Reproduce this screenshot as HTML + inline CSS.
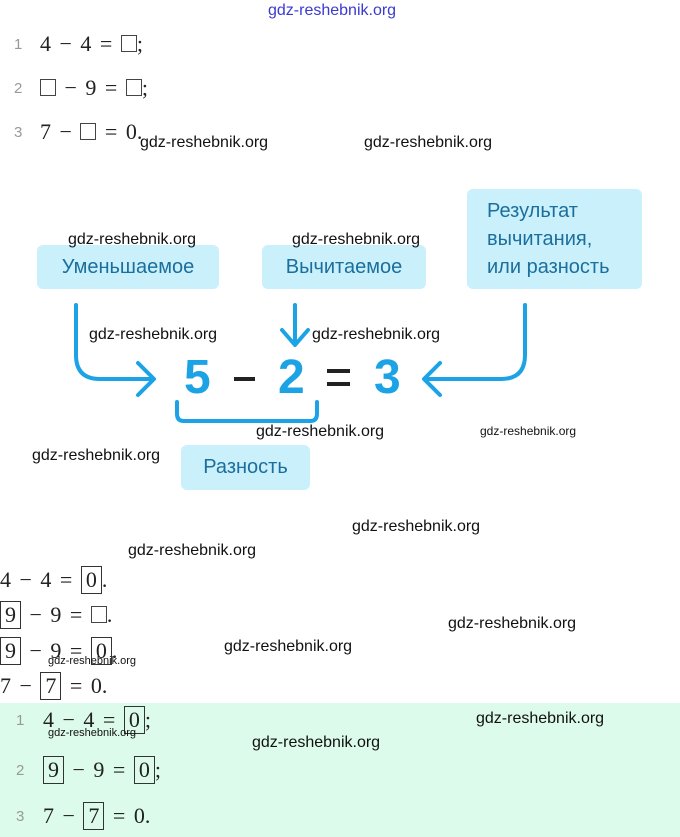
<!DOCTYPE html>
<html><head><meta charset="utf-8">
<style>
body{margin:0;width:680px;height:837px;position:relative;background:#fff;overflow:hidden;font-family:"Liberation Sans",sans-serif}
.a{position:absolute;white-space:nowrap}
.m{font-family:"Liberation Serif",serif;font-size:22px;color:#222;word-spacing:3px}
.n{font-family:"Liberation Sans",sans-serif;font-size:15px;color:#999}
.b{display:inline-block;border:1px solid #333;padding:0 4px;line-height:26px;height:26px;vertical-align:middle;margin-top:-4px}
.e{display:inline-block;width:14px;height:15px;border:1px solid #444;vertical-align:-1px}
.w{font-size:16px;color:#111}
.box{position:absolute;background:#c9f0fb;border-radius:6px;color:#1c6e9c;font-size:20px}
.g{font-size:48px;position:absolute;top:350px;color:#1ca3e6;font-weight:bold}
</style></head><body>
<div class="a" style="left:268px;top:2px;font-size:16px;color:#3a3ad0">gdz-reshebnik.org</div>

<div class="a n" style="left:14px;top:36px">1</div>
<div class="a m" style="left:40px;top:31px">4 − 4 = <span class="e"></span>;</div>
<div class="a n" style="left:14px;top:80px">2</div>
<div class="a m" style="left:40px;top:75px"><span class="e"></span> − 9 = <span class="e"></span>;</div>
<div class="a n" style="left:14px;top:124px">3</div>
<div class="a m" style="left:40px;top:119px">7 − <span class="e"></span> = 0.</div>

<div class="a w" style="left:140px;top:134px">gdz-reshebnik.org</div>
<div class="a w" style="left:364px;top:134px">gdz-reshebnik.org</div>

<div class="box" style="left:37px;top:245px;width:182px;height:44px;line-height:44px;text-align:center">Уменьшаемое</div>
<div class="box" style="left:262px;top:245px;width:164px;height:44px;line-height:44px;text-align:center">Вычитаемое</div>
<div class="box" style="left:467px;top:189px;width:175px;height:100px;line-height:28px;padding:8px 0 0 20px;box-sizing:border-box">Результат<br>вычитания,<br>или разность</div>
<div class="box" style="left:181px;top:445px;width:129px;height:45px;line-height:45px;text-align:center">Разность</div>

<div class="a w" style="left:68px;top:231px">gdz-reshebnik.org</div>
<div class="a w" style="left:292px;top:231px">gdz-reshebnik.org</div>

<svg class="a" style="left:0;top:0" width="680" height="837">
<g fill="none" stroke="#1ca3e6" stroke-width="4" stroke-linecap="round" stroke-linejoin="round">
<path d="M76 305 V355 Q76 379 100 379 H152"/>
<path d="M138 363 L154 379 L138 395"/>
<path d="M295 305 V343"/>
<path d="M282 330 L295 345 L308 330"/>
<path d="M525 305 V355 Q525 379 501 379 H426"/>
<path d="M440 363 L424 379 L440 395"/>
<path d="M177 402 V414 Q177 421 184 421 H310 Q317 421 317 414 V402"/>
</g>
<rect x="234" y="377" width="21" height="4" fill="#222"/>
<rect x="327" y="369" width="23" height="4" fill="#222"/>
<rect x="327" y="382" width="23" height="4" fill="#222"/>
</svg>
<div class="g" style="left:184px">5</div>
<div class="g" style="left:278px">2</div>
<div class="g" style="left:374px">3</div>

<div class="a w" style="left:89px;top:326px">gdz-reshebnik.org</div>
<div class="a w" style="left:312px;top:326px">gdz-reshebnik.org</div>
<div class="a w" style="left:256px;top:423px">gdz-reshebnik.org</div>
<div class="a" style="left:480px;top:424px;font-size:12px;color:#111">gdz-reshebnik.org</div>
<div class="a w" style="left:32px;top:447px">gdz-reshebnik.org</div>
<div class="a w" style="left:352px;top:518px">gdz-reshebnik.org</div>
<div class="a w" style="left:128px;top:542px">gdz-reshebnik.org</div>
<div class="a w" style="left:448px;top:615px">gdz-reshebnik.org</div>
<div class="a w" style="left:224px;top:638px">gdz-reshebnik.org</div>

<div class="a m" style="left:0;top:567px">4 − 4 = <span class="b">0</span>.</div>
<div class="a m" style="left:0;top:602px"><span class="b">9</span> − 9 = <span class="e"></span>.</div>
<div class="a m" style="left:0;top:638px"><span class="b">9</span> − 9 = <span class="b">0</span>.</div>
<div class="a" style="left:48px;top:655px;font-size:11px;color:#111">gdz-reshebnik.org</div>
<div class="a m" style="left:0;top:673px">7 − <span class="b">7</span> = 0.</div>

<div class="a" style="left:0;top:703px;width:680px;height:134px;background:#dcfbeb"></div>
<div class="a n" style="left:16px;top:712px">1</div>
<div class="a m" style="left:43px;top:707px">4 − 4 = <span class="b">0</span>;</div>
<div class="a" style="left:48px;top:727px;font-size:11px;color:#111">gdz-reshebnik.org</div>
<div class="a n" style="left:16px;top:762px">2</div>
<div class="a m" style="left:43px;top:757px"><span class="b">9</span> − 9 = <span class="b">0</span>;</div>
<div class="a n" style="left:16px;top:808px">3</div>
<div class="a m" style="left:43px;top:803px">7 − <span class="b">7</span> = 0.</div>
<div class="a w" style="left:476px;top:710px">gdz-reshebnik.org</div>
<div class="a w" style="left:252px;top:734px">gdz-reshebnik.org</div>
</body></html>
